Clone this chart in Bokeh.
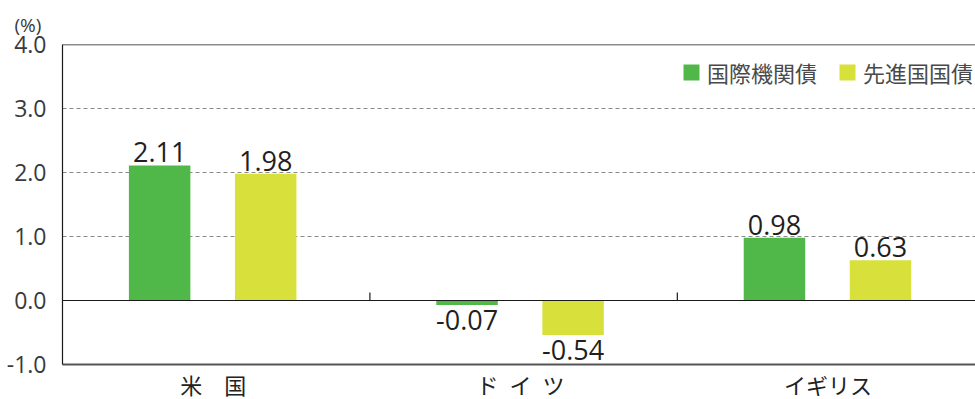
import numpy as np
from bokeh.plotting import figure
from bokeh.models import (ColumnDataSource, Range1d, FixedTicker, Span, Legend, LegendItem,
                          NumeralTickFormatter)
from bokeh.core.properties import value
from bokeh.embed import file_html
from bokeh.resources import INLINE

categories = ["米\u3000国", "ド\u2002イ\u2002ツ", "イギリス"]
series_names = ["国際機関債", "先進国国債"]
intl_org = [2.11, -0.07, 0.98]
developed = [1.98, -0.54, 0.63]
y_ticks = [-1.0, 0.0, 1.0, 2.0, 3.0, 4.0]

GREEN = "#50b848"
YELLOW = "#d8e03c"
NUM_FONT = "Open Sans"
JP_FONT = "Noto Sans CJK JP"

n = len(categories)
idx = np.arange(n)

p = figure(frame_width=913, frame_height=320, output_backend="svg", toolbar_location=None,
           x_range=Range1d(0, 2.97), y_range=Range1d(-1.0, 4.0),
           min_border_left=62, min_border_right=0, min_border_top=44, min_border_bottom=35,
           title="(%)")
p.outline_line_color = None
p.background_fill_color = "white"

p.title.text_font = NUM_FONT
p.title.text_font_size = "19px"
p.title.text_font_style = "normal"
p.title.text_color = "#3a3a3a"
p.title.align = "left"
p.title.offset = -48
p.title.standoff = 14

# grid
p.xgrid.visible = False
p.ygrid.ticker = FixedTicker(ticks=y_ticks)
p.ygrid.grid_line_color = "#8a8a8a"
p.ygrid.grid_line_dash = "4 3"
p.ygrid.grid_line_width = 1

# bars
src_g = ColumnDataSource(dict(x=idx + 0.316, top=intl_org,
                              lab=[f"{v:.2f}" for v in intl_org],
                              base=["bottom" if v >= 0 else "top" for v in intl_org],
                              off=[-3 if v >= 0 else 5 for v in intl_org]))
src_y = ColumnDataSource(dict(x=idx + 0.661, top=developed,
                              lab=[f"{v:.2f}" for v in developed],
                              base=["bottom" if v >= 0 else "top" for v in developed],
                              off=[-3 if v >= 0 else 5 for v in developed]))
rg = p.vbar(x="x", top="top", bottom=0, width=0.2, source=src_g, fill_color=GREEN, line_color=None)
ry = p.vbar(x="x", top="top", bottom=0, width=0.2, source=src_y, fill_color=YELLOW, line_color=None)

for src in (src_g, src_y):
    p.text(x="x", y="top", text="lab", source=src, text_align="center", text_baseline="base",
           y_offset="off", text_font=value(NUM_FONT), text_font_size="27px", text_color="#231f20")

# zero line and top line
p.add_layout(Span(location=0, dimension="width", line_color="#1a1a1a", line_width=1.2))
p.add_layout(Span(location=4.0, dimension="width", line_color="#1a1a1a", line_width=1.5))

# category boundary ticks on zero line
bounds = np.arange(1, n)
p.segment(x0=bounds, y0=0, x1=bounds, y1=0.125, line_color="#1a1a1a", line_width=1.2)

# y axis
p.yaxis.ticker = FixedTicker(ticks=y_ticks)
p.yaxis.formatter = NumeralTickFormatter(format="0.0")
p.yaxis.major_tick_line_color = None
p.yaxis.minor_tick_line_color = None
p.yaxis.axis_line_color = "#1a1a1a"
p.yaxis.axis_line_width = 1.2
p.yaxis.major_label_text_font = NUM_FONT
p.yaxis.major_label_text_font_size = "23px"
p.yaxis.major_label_text_color = "#3a3a3a"
p.yaxis.major_label_standoff = 10

# x axis (category labels)
p.xaxis.ticker = FixedTicker(ticks=list(idx + 0.49))
p.xaxis.major_label_overrides = {float(i + 0.49): c for i, c in enumerate(categories)}
p.xaxis.major_tick_line_color = None
p.xaxis.minor_tick_line_color = None
p.xaxis.axis_line_color = "#555555"
p.xaxis.axis_line_width = 2
p.xaxis.major_label_text_font = JP_FONT
p.xaxis.major_label_text_font_size = "22px"
p.xaxis.major_label_text_color = "#222222"
p.xaxis.major_label_standoff = -3

# legend
legend = Legend(items=[LegendItem(label=series_names[0], renderers=[rg]),
                       LegendItem(label=series_names[1], renderers=[ry])],
                orientation="horizontal", location=(619, 276),
                glyph_width=20, glyph_height=20, label_standoff=6, spacing=20,
                padding=0, margin=0, border_line_color=None, background_fill_alpha=0,
                label_text_font=JP_FONT, label_text_font_size="22px", label_text_color="#4a4a4a")
p.add_layout(legend)

open("out.html", "w").write(file_html(p, INLINE))
